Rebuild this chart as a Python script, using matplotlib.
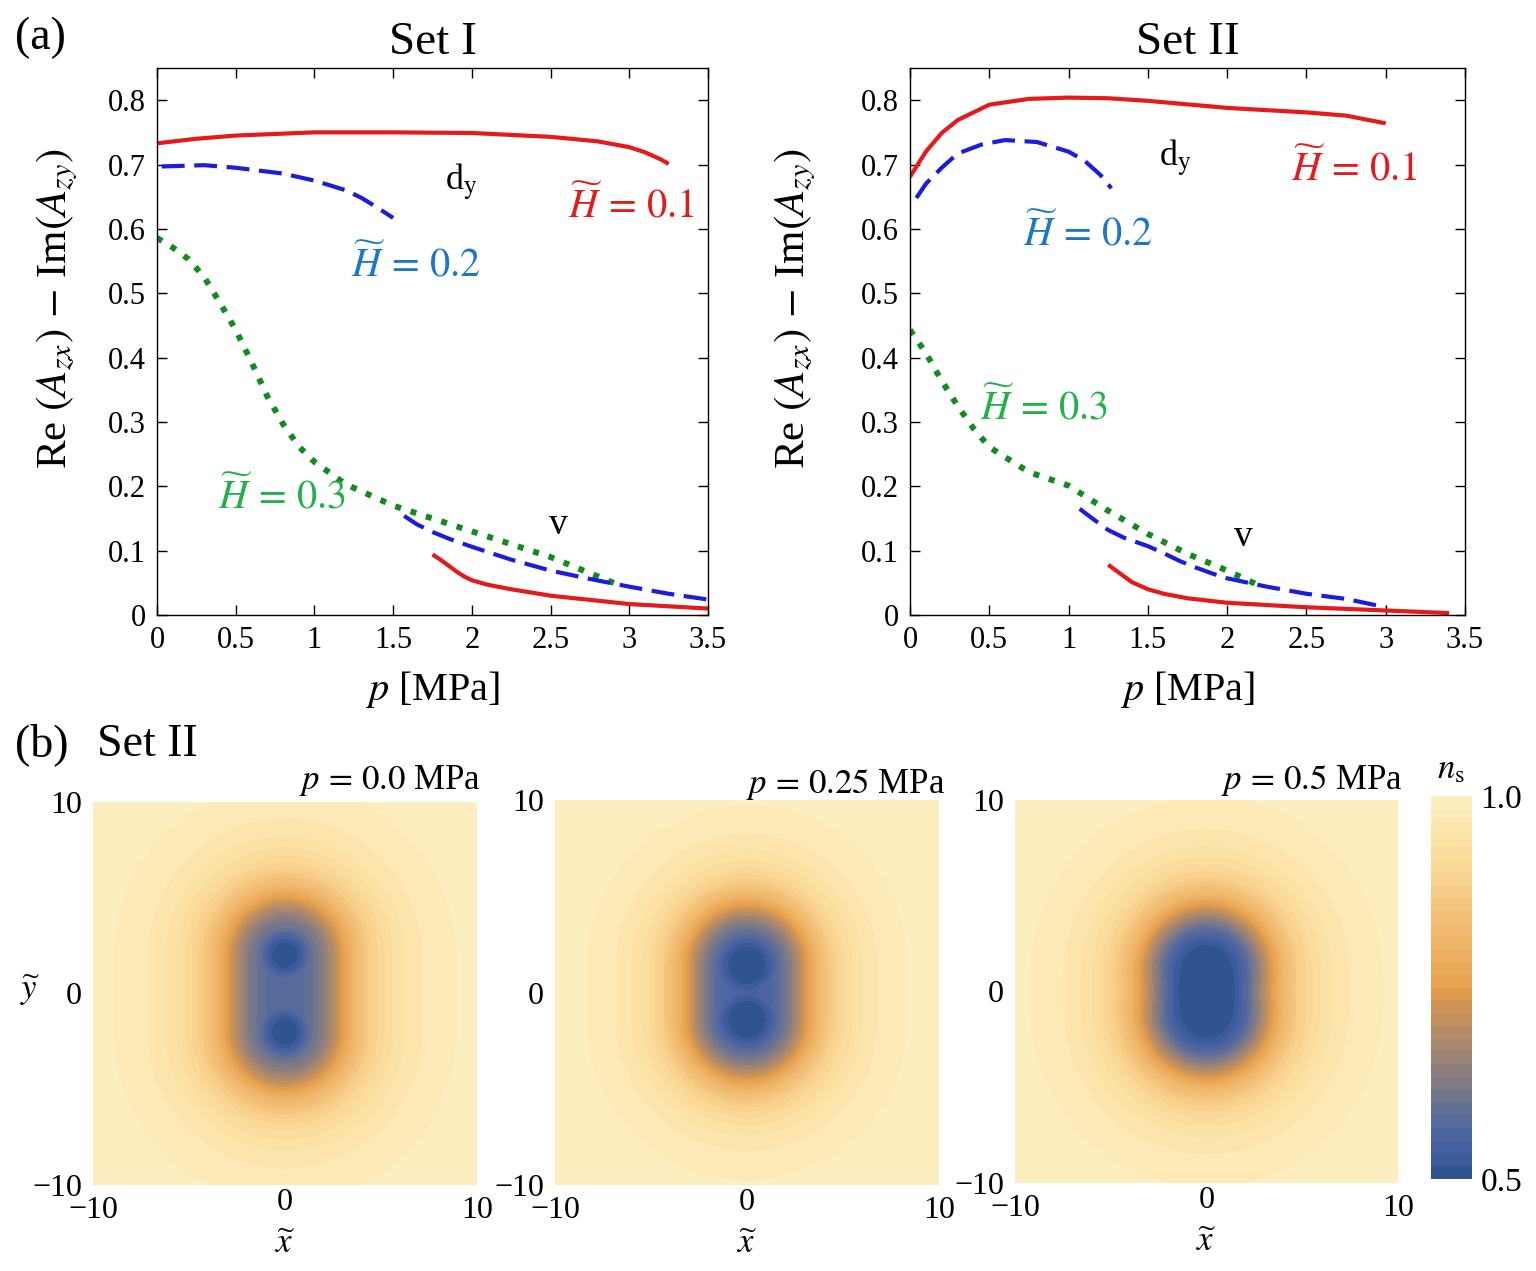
import numpy as np
import matplotlib
matplotlib.use("Agg")
import matplotlib.pyplot as plt
from matplotlib.colors import LinearSegmentedColormap

plt.rcParams['font.family'] = ['Liberation Serif', 'DejaVu Serif']
plt.rcParams['mathtext.fontset'] = 'stix'

# ---------------- data: panel (a) ----------------
# Set I
s1_red_up_p = [0.0, 0.25, 0.5, 1.0, 1.5, 2.0, 2.5, 2.8, 3.0, 3.1, 3.2, 3.25]
s1_red_up_v = [0.733, 0.740, 0.745, 0.750, 0.750, 0.749, 0.743, 0.736, 0.727, 0.719, 0.708, 0.701]
s1_red_lo_p = [1.75, 1.8, 1.85, 1.9, 1.95, 2.0, 2.1, 2.25, 2.5, 3.0, 3.5]
s1_red_lo_v = [0.094, 0.086, 0.077, 0.068, 0.060, 0.054, 0.047, 0.040, 0.030, 0.017, 0.010]
s1_blue_up_p = [0.03, 0.3, 0.5, 0.8, 1.0, 1.2, 1.3, 1.4, 1.5]
s1_blue_up_v = [0.697, 0.699, 0.695, 0.686, 0.675, 0.660, 0.648, 0.633, 0.617]
s1_blue_lo_p = [1.57, 1.65, 1.75, 1.85, 2.0, 2.25, 2.5, 2.75, 3.0, 3.25, 3.5]
s1_blue_lo_v = [0.154, 0.141, 0.129, 0.119, 0.106, 0.086, 0.069, 0.056, 0.044, 0.033, 0.024]
s1_green_p = [0.0, 0.1, 0.2, 0.3, 0.4, 0.5, 0.6, 0.7, 0.8, 0.9, 1.0, 1.2, 1.5, 2.0, 2.5, 2.92]
s1_green_v = [0.586, 0.571, 0.553, 0.525, 0.485, 0.443, 0.393, 0.340, 0.297, 0.262, 0.238, 0.203, 0.170, 0.130, 0.090, 0.048]

# Set II
s2_red_up_p = [0.0, 0.1, 0.2, 0.3, 0.5, 0.75, 1.0, 1.25, 1.5, 2.0, 2.5, 2.75, 3.0]
s2_red_up_v = [0.681, 0.720, 0.749, 0.769, 0.793, 0.802, 0.804, 0.803, 0.799, 0.788, 0.781, 0.776, 0.764]
s2_red_lo_p = [1.25, 1.3, 1.35, 1.4, 1.5, 1.6, 1.75, 2.0, 2.5, 3.0, 3.4]
s2_red_lo_v = [0.078, 0.069, 0.060, 0.051, 0.040, 0.033, 0.026, 0.019, 0.012, 0.007, 0.003]
s2_blue_up_p = [0.04, 0.1, 0.2, 0.3, 0.45, 0.6, 0.8, 1.0, 1.1, 1.2, 1.27]
s2_blue_up_v = [0.648, 0.670, 0.695, 0.717, 0.731, 0.738, 0.735, 0.720, 0.706, 0.684, 0.663]
s2_blue_lo_p = [1.07, 1.15, 1.25, 1.35, 1.5, 1.6, 1.7, 1.8, 1.9, 2.0, 2.25, 2.5, 2.75, 3.0]
s2_blue_lo_v = [0.165, 0.150, 0.132, 0.120, 0.107, 0.096, 0.084, 0.074, 0.065, 0.057, 0.044, 0.033, 0.025, 0.012]
s2_green_p = [0.0, 0.1, 0.2, 0.3, 0.4, 0.5, 0.75, 1.0, 1.25, 1.5, 1.75, 2.0, 2.2]
s2_green_v = [0.443, 0.407, 0.364, 0.325, 0.290, 0.261, 0.222, 0.201, 0.162, 0.126, 0.095, 0.069, 0.046]

x_ticks = [0, 0.5, 1, 1.5, 2, 2.5, 3, 3.5]
x_tick_labels = ['0', '0.5', '1', '1.5', '2', '2.5', '3', '3.5']
y_ticks = [0, 0.1, 0.2, 0.3, 0.4, 0.5, 0.6, 0.7, 0.8]
y_tick_labels = ['0', '0.1', '0.2', '0.3', '0.4', '0.5', '0.6', '0.7', '0.8']

# ---------------- data: panel (b) ----------------
panel_pressures = ['0.0', '0.25', '0.5']
core_half_sep = [2.0, 1.4, 1.1]     # half distance between the two vortex cores (along y)
core_scale = [2.3, 2.6, 3.5]        # radial scale of each core
core_power = [2.8, 3.5, 3.5]
core_blend = [10, 20, 10]
env_amp = [0.85, 0.90, 0.95]        # depletion level of the surrounding halo
env_scale = [3.4, 3.4, 3.3]
env_power = [3.3, 3.6, 3.4]
n_min = 0.5
cbar_ticks = [0.5, 1.0]
cbar_tick_labels = ['0.5', '1.0']
map_ticks = [-10, 0, 10]
map_tick_labels = ['\u221210', '0', '10']

cmap_values = [0.5, 0.525, 0.55, 0.575, 0.6, 0.625, 0.65, 0.675, 0.7, 0.725, 0.75, 0.8, 0.85, 0.9, 0.95, 1.0]
cmap_colors = ['#2a5288', '#3d5c9c', '#4a64a4', '#58699c', '#6a7490', '#7f7a84', '#918079', '#a88670',
               '#bb8e62', '#cf9455', '#e6a04c', '#eeb266', '#f3c27a', '#f9d592', '#fce3a8', '#fdf0c4']

RED = '#e41a1c'
BLUE = '#1c1ce0'
GREEN = '#138a1e'
TXT_BLUE = '#1a78c8'
TXT_GREEN = '#22b04a'

W, H = 1536, 1271
fig = plt.figure(figsize=(W / 100, H / 100), dpi=100)


def frac(l, t, r, b):
    return [l / W, 1 - b / H, (r - l) / W, (b - t) / H]


def style_line_axes(ax, label_x):
    ax.set_xlim(0, 3.5)
    ax.set_ylim(0, 0.85)
    ax.set_xticks(x_ticks)
    ax.set_xticklabels(x_tick_labels)
    ax.set_yticks(y_ticks)
    ax.set_yticklabels(y_tick_labels)
    ax.tick_params(direction='in', length=7, width=1, top=True, right=True, labelsize=22, pad=8)
    for s in ax.spines.values():
        s.set_linewidth(1.0)
    ax.set_xlabel(r'$p$ [MPa]', fontsize=29, labelpad=10)
    ax.set_ylabel(r'Re $(A_{zx})$ $-$ Im$(A_{zy})$', fontsize=31)
    ax.yaxis.set_label_coords(label_x, 0.56)


solid = dict(color=RED, lw=3.0, solid_capstyle='butt')
dashed = dict(color=BLUE, lw=3.0, linestyle=(0, (5.5, 2.3)), dash_capstyle='butt')
dotted = dict(color=GREEN, lw=4.3, linestyle=(0, (1, 1.7)), dash_capstyle='butt')

HL = r'$\widetilde{H}\,=\,%s$'

# Set I
ax1 = fig.add_axes(frac(157, 68, 708, 615))
ax1.plot(s1_green_p, s1_green_v, **dotted)
ax1.plot(s1_blue_up_p, s1_blue_up_v, **dashed)
ax1.plot(s1_blue_lo_p, s1_blue_lo_v, **dashed)
ax1.plot(s1_red_up_p, s1_red_up_v, **solid)
ax1.plot(s1_red_lo_p, s1_red_lo_v, **solid)
style_line_axes(ax1, -0.14)
ax1.set_title('Set I', fontsize=34, pad=10)
ax1.text(2.61, 0.636, HL % '0.1', color=RED, fontsize=29, va='center', ha='left')
ax1.text(1.23, 0.543, HL % '0.2', color=TXT_BLUE, fontsize=29, va='center', ha='left')
ax1.text(0.39, 0.183, HL % '0.3', color=TXT_GREEN, fontsize=29, va='center', ha='left')
ax1.text(1.83, 0.672, r'd$_\mathrm{y}$', fontsize=26, va='center', ha='left')
ax1.text(2.55, 0.14, 'v', fontsize=27, va='center', ha='center')

# Set II
ax2 = fig.add_axes(frac(910, 68, 1465, 615))
ax2.plot(s2_green_p, s2_green_v, **dotted)
ax2.plot(s2_blue_up_p, s2_blue_up_v, **dashed)
ax2.plot(s2_blue_lo_p, s2_blue_lo_v, **dashed)
ax2.plot(s2_red_up_p, s2_red_up_v, **solid)
ax2.plot(s2_red_lo_p, s2_red_lo_v, **solid)
style_line_axes(ax2, -0.165)
ax2.set_title('Set II', fontsize=34, pad=10)
ax2.text(2.40, 0.693, HL % '0.1', color=RED, fontsize=29, va='center', ha='left')
ax2.text(0.71, 0.592, HL % '0.2', color=TXT_BLUE, fontsize=29, va='center', ha='left')
ax2.text(0.44, 0.321, HL % '0.3', color=TXT_GREEN, fontsize=29, va='center', ha='left')
ax2.text(1.57, 0.710, r'd$_\mathrm{y}$', fontsize=26, va='center', ha='left')
ax2.text(2.10, 0.121, 'v', fontsize=27, va='center', ha='center')

fig.text(15 / W, 1 - 38 / H, '(a)', fontsize=33, va='center', ha='left')
fig.text(15 / W, 1 - 745 / H, '(b)', fontsize=33, va='center', ha='left')
fig.text(97 / W, 1 - 745 / H, 'Set II', fontsize=33, va='center', ha='left')

# ---------------- panel (b): n_s maps ----------------
cmap = LinearSegmentedColormap.from_list(
    'ns', list(zip([(v - 0.5) / 0.5 for v in cmap_values], cmap_colors)))
levels = np.linspace(0.5, 1.0, 31)
gx = np.linspace(-10, 10, 501)
X, Y = np.meshgrid(gx, gx)

map_boxes = [(93, 802, 477, 1185), (555, 800, 939, 1185), (1015, 800, 1398, 1183)]
label_right = [481, 945, 1403]
label_y = [780, 785, 780]
cf = None
for i, (l, t, r, b) in enumerate(map_boxes):
    ax = fig.add_axes(frac(l, t, r, b))
    d = core_half_sep[i]
    r1 = np.hypot(X, Y - d)
    r2 = np.hypot(X, Y + d)
    g1 = 1.0 / (1.0 + (r1 / core_scale[i]) ** core_power[i])
    g2 = 1.0 / (1.0 + (r2 / core_scale[i]) ** core_power[i])
    m = core_blend[i]
    cores = (g1 ** m + g2 ** m) ** (1.0 / m)
    rho = np.hypot(X, np.clip(np.abs(Y) - d, 0, None))   # distance to the segment joining the cores
    env = env_amp[i] / (1.0 + (rho / env_scale[i]) ** env_power[i])
    F = np.clip(np.maximum(cores, env), 0, 1)
    ns = 1.0 - (1.0 - n_min) * F
    cf = ax.contourf(X, Y, ns, levels=levels, cmap=cmap, vmin=0.5, vmax=1.0)
    ax.set_xlim(-10, 10)
    ax.set_ylim(-10, 10)
    for sp in ax.spines.values():
        sp.set_visible(False)
    ax.set_xticks(map_ticks)
    ax.set_xticklabels(map_tick_labels)
    ax.set_yticks(map_ticks)
    ax.set_yticklabels(map_tick_labels)
    ax.tick_params(length=0, labelsize=23, pad=8)
    ax.xaxis.get_major_ticks()[1].set_pad(2)
    ax.set_xlabel(r'$\widetilde{x}$', fontsize=25, labelpad=2)
    fig.text(label_right[i] / W, 1 - label_y[i] / H, r'$p\,=\,%s$ MPa' % panel_pressures[i],
             fontsize=25, ha='right', va='center')

fig.text(30 / W, 1 - 990 / H, r'$\widetilde{y}$', fontsize=25, ha='center', va='center')

cax = fig.add_axes(frac(1431, 796, 1472, 1179))
cb = fig.colorbar(cf, cax=cax, ticks=cbar_ticks)
cb.set_ticklabels(cbar_tick_labels)
cb.outline.set_visible(False)
cax.tick_params(length=0, labelsize=24, pad=6)
fig.text(1451 / W, 1 - 770 / H, r'$n_\mathrm{s}$', fontsize=25, ha='center', va='center')

fig.savefig('out.png', dpi=100)
